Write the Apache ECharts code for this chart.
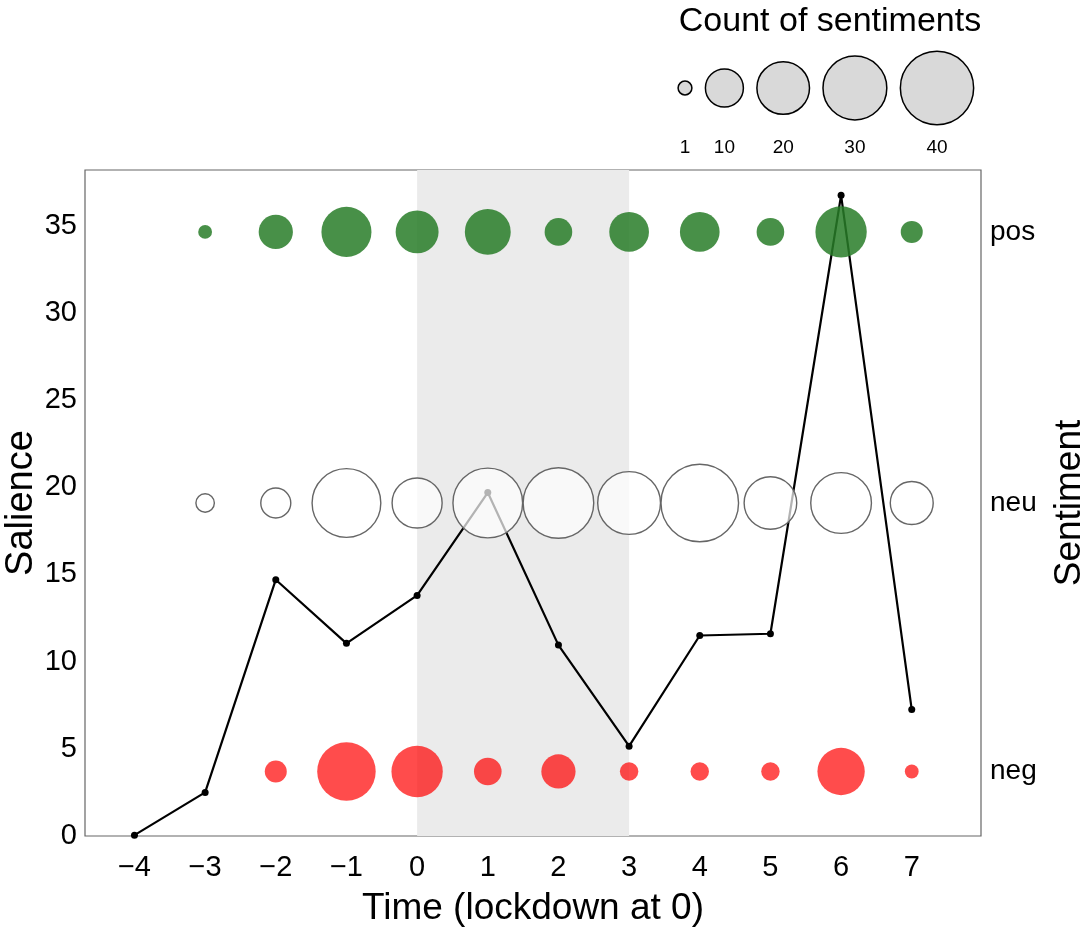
<!DOCTYPE html>
<html>
<head>
<meta charset="utf-8">
<script src="https://cdn.jsdelivr.net/npm/echarts@6/dist/echarts.min.js"></script>
<style>
  html, body { margin: 0; padding: 0; background: #fff; }
  #main { width: 1084px; height: 931px; }
</style>
</head>
<body>
<div id="main"></div>
<script>
// time points (weeks around lockdown)
const times = [-4, -3, -2, -1, 0, 1, 2, 3, 4, 5, 6, 7];
// salience line
const salience = [0.05, 2.5, 14.7, 11.05, 13.8, 19.7, 10.95, 5.15, 11.5, 11.6, 36.75, 7.25];
// counts of sentiments per time point (null = none)
const posCount = [null, 1, 8, 18, 13, 15, 5, 11, 11, 5, 19, 3];
const neuCount = [null, 2, 6, 35, 18, 36, 37, 29, 45, 20, 27, 13];
const negCount = [null, null, 3, 25, 19, 5, 8, 2, 2, 2, 16, 1];
// sentiment rows and where they sit on the salience scale
const sentimentLevels = ['pos', 'neu', 'neg'];
const sentimentAt = [34.65, 19.1, 3.7];
// size legend
const legendCounts = [1, 10, 20, 30, 40];
// lockdown shading
const lockdownSpan = [0, 3];

const FONT = 'Liberation Sans, Arial, Helvetica, sans-serif';

// diameter for a count
const bubbleSize = (v) => 2.65 + 11.17 * Math.sqrt(v);

const minus = (v) => String(v).replace('-', '\u2212');

const rowData = (counts, level) => {
        let out = [];
        counts.forEach((c, i) => {
                if (c != null) out.push([times[i], sentimentAt[level], c]);
        });
        return out;
};

// legend circle centres laid out from their sizes
let legendX = [];
let cx = 0;
legendCounts.forEach((c, i) => {
        if (i > 0) {
                cx += (bubbleSize(legendCounts[i - 1]) + bubbleSize(c)) / 2 + 13.5;
        }
        legendX.push(Math.round(cx * 10) / 10);
});

let chart = echarts.init(document.getElementById('main'));

let option = {
        animation: false,
        title: {
                text: 'Count of sentiments',
                left: 825,
                top: 0,
                textAlign: 'center',
                textStyle: { fontFamily: FONT, fontSize: 34, fontWeight: 'normal', color: '#000' }
        },
        grid: [{
                left: 85,
                right: 103,
                top: 170,
                bottom: 95,
                outerBoundsMode: 'none',
                containLabel: false,
                show: true,
                borderColor: '#666',
                borderWidth: 1.2,
                backgroundColor: 'transparent'
        }, {
                left: 685,
                top: 53,
                width: 260,
                height: 70,
                outerBoundsMode: 'none',
                containLabel: false
        }],
        xAxis: [{
                type: 'value',
                gridIndex: 0,
                min: -4.7,
                max: 7.98,
                axisLine: { show: false },
                axisTick: { show: false },
                splitLine: { show: false },
                axisLabel: {
                        customValues: times,
                        formatter: minus,
                        margin: 17,
                        color: '#000',
                        fontFamily: FONT,
                        fontSize: 29
                },
                name: 'Time (lockdown at 0)',
                nameLocation: 'middle',
                nameGap: 54,
                nameTextStyle: { fontFamily: FONT, fontSize: 37, color: '#000' }
        }, {
                type: 'value',
                gridIndex: 1,
                min: 0,
                max: 260,
                axisLine: { show: false },
                axisTick: { show: false },
                splitLine: { show: false },
                axisLabel: {
                        customValues: legendX,
                        formatter: (v) => legendCounts[legendX.indexOf(v)],
                        margin: 15,
                        color: '#000',
                        fontFamily: FONT,
                        fontSize: 19
                }
        }],
        yAxis: [{
                type: 'value',
                gridIndex: 0,
                min: 0,
                max: 38.2,
                interval: 5,
                axisLine: { show: false },
                axisTick: { show: false },
                splitLine: { show: false },
                axisLabel: {
                        showMaxLabel: false,
                        margin: 8,
                        color: '#000',
                        fontFamily: FONT,
                        fontSize: 29
                },
                name: 'Salience',
                nameLocation: 'middle',
                nameGap: 44,
                nameMoveOverlap: false,
                nameRotate: 90,
                nameTextStyle: { fontFamily: FONT, fontSize: 38, color: '#000' }
        }, {
                type: 'value',
                gridIndex: 0,
                position: 'right',
                min: 0,
                max: 38.2,
                axisLine: { show: false },
                axisTick: { show: false },
                splitLine: { show: false },
                axisLabel: {
                        customValues: sentimentAt,
                        formatter: (v) => sentimentLevels[sentimentAt.indexOf(v)],
                        margin: 9,
                        color: '#000',
                        fontFamily: FONT,
                        fontSize: 28
                },
                name: 'Sentiment',
                nameLocation: 'middle',
                nameGap: 70,
                nameMoveOverlap: false,
                nameRotate: 90,
                nameTextStyle: { fontFamily: FONT, fontSize: 37, color: '#000' }
        }, {
                type: 'value',
                gridIndex: 1,
                min: 0,
                max: 1,
                show: false
        }],
        series: [{
                // lockdown band
                type: 'line',
                xAxisIndex: 0,
                yAxisIndex: 0,
                data: [],
                z: 1,
                silent: true,
                markArea: {
                        silent: true,
                        itemStyle: { color: '#ebebeb' },
                        data: [[{ xAxis: lockdownSpan[0] }, { xAxis: lockdownSpan[1] }]]
                }
        }, {
                name: 'salience',
                type: 'line',
                xAxisIndex: 0,
                yAxisIndex: 0,
                z: 2,
                data: times.map((t, i) => [t, salience[i]]),
                symbol: 'circle',
                symbolSize: 7,
                lineStyle: { color: '#000', width: 2.2 },
                itemStyle: { color: '#000' }
        }, {
                name: 'pos',
                type: 'scatter',
                xAxisIndex: 0,
                yAxisIndex: 0,
                z: 3,
                data: rowData(posCount, 0),
                symbolSize: (v) => bubbleSize(v[2]),
                itemStyle: { color: 'rgba(40,125,40,0.85)', opacity: 1 }
        }, {
                name: 'neu',
                type: 'scatter',
                xAxisIndex: 0,
                yAxisIndex: 0,
                z: 3,
                data: rowData(neuCount, 1),
                symbolSize: (v) => bubbleSize(v[2]),
                itemStyle: {
                        color: 'rgba(255,255,255,0.7)',
                        borderColor: '#666',
                        borderWidth: 1.4,
                        opacity: 1
                }
        }, {
                name: 'neg',
                type: 'scatter',
                xAxisIndex: 0,
                yAxisIndex: 0,
                z: 3,
                data: rowData(negCount, 2),
                symbolSize: (v) => bubbleSize(v[2]),
                itemStyle: { color: 'rgba(255,0,0,0.7)', opacity: 1 }
        }, {
                name: 'legend',
                type: 'scatter',
                xAxisIndex: 1,
                yAxisIndex: 2,
                data: legendCounts.map((c, i) => [legendX[i], 0.5, c]),
                symbolSize: (v) => bubbleSize(v[2]),
                itemStyle: {
                        color: '#d9d9d9',
                        borderColor: '#000',
                        borderWidth: 1.5,
                        opacity: 1
                }
        }]
};

chart.setOption(option);
</script>
</body>
</html>
